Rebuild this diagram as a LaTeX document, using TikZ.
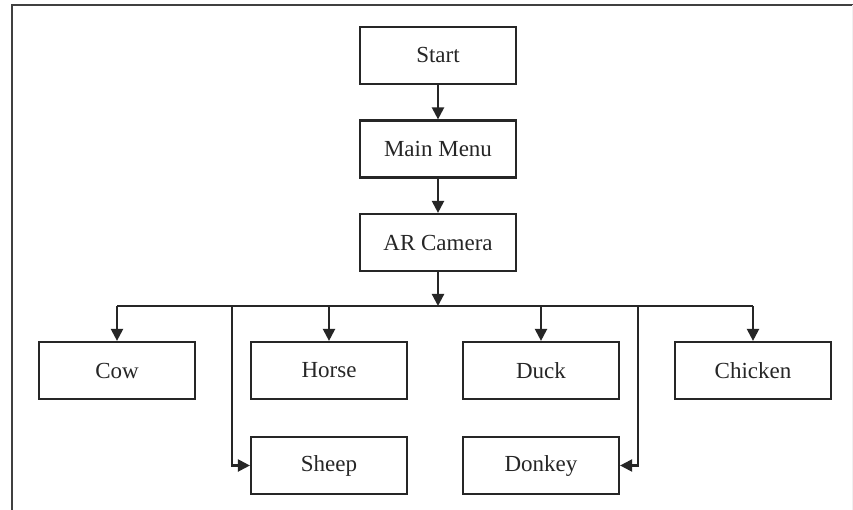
\documentclass[tikz,border=0pt]{standalone}
\usepackage{fontspec}
\setmainfont{Liberation Serif}
\usetikzlibrary{arrows.meta}
\begin{document}
\begin{tikzpicture}[x=1pt,y=-1pt,
  box/.style={draw=black!85, line width=2.2pt, minimum width=156pt, minimum height=57pt,
    inner sep=0pt, font=\fontsize{23}{27}\selectfont, text=black!85},
  link/.style={draw=black!85, line width=2.2pt},
  arr/.style={link, -{Triangle[length=12pt,width=12pt]}}]
  % canvas and frame
  \useasboundingbox (0,0) rectangle (853,510);
  \fill[white] (0,0) rectangle (853,510);
  \draw[black!75, line width=2.2pt] (12,510) -- (12,5) -- (853,5);
  \draw[black!6, line width=1pt] (852,5) -- (852,510);

  % main column
  \node[box] (start)  at (438,55.5)  {Start};
  \node[box] (menu)   at (438,149)   {Main Menu};
  \node[box] (camera) at (438,242.5) {AR Camera};

  % animal boxes
  \node[box] (cow)     at (117,370.5) {Cow};
  \node[box] (horse)   at (329,370.5) {Horse};
  \node[box] (duck)    at (541,370.5) {Duck};
  \node[box] (chicken) at (753,370.5) {Chicken};
  \node[box] (sheep)   at (329,465.5) {Sheep};
  \node[box] (donkey)  at (541,465.5) {Donkey};

  % distribution bus
  \coordinate (bus)  at (438,306);
  \coordinate (busL) at (117,306);
  \coordinate (busR) at (753,306);
  \coordinate (dropL) at (232,306);
  \coordinate (dropR) at (638,306);

  \draw[arr] (start) -- (menu);
  \draw[arr] (menu) -- (camera);
  \draw[arr] (camera) -- (bus);
  \draw[link] (busL) -- (busR);
  \draw[arr] (busL) -- (cow);
  \draw[arr] (bus -| horse.north) -- (horse);
  \draw[arr] (bus -| duck.north) -- (duck);
  \draw[arr] (busR) -- (chicken);
  \draw[arr] (dropL) |- (sheep.west);
  \draw[arr] (dropR) |- (donkey.east);
\end{tikzpicture}
\end{document}
